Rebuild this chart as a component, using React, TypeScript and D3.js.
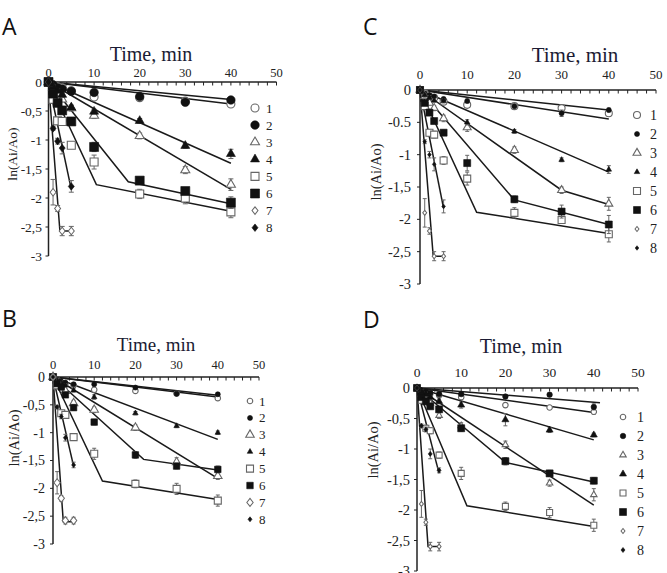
import React from 'react';
import * as d3 from 'd3';

// time points (min)
const times = [0, 1, 2, 3, 5, 10, 20, 30, 40];
const fastTimes = [0, 1, 2, 3, 5];
const seriesLabels = ['1', '2', '3', '4', '5', '6', '7', '8'];

const xTicks = [0, 10, 20, 30, 40, 50];
const yTicks = [0, -0.5, -1, -1.5, -2, -2.5, -3];
const yTickLabels = ['0', '-0,5', '-1', '-1,5', '-2', '-2,5', '-3'];
const yTickLabelsC = ['0', '-0.5', '-1', '-1,5', '-2', '-2,5', '-3'];

// ln(Ai/Ao), series 1-6 on `times`, series 7-8 on `fastTimes`
const valuesA = [
  [0, -0.05, -0.08, -0.1, -0.15, -0.26, -0.27, -0.33, -0.38],
  [0, -0.05, -0.1, -0.12, -0.16, -0.18, -0.25, -0.35, -0.31],
  [0, -0.1, -0.2, -0.3, -0.45, -0.58, -0.93, -1.52, -1.77],
  [0, -0.08, -0.15, -0.22, -0.44, -0.51, -0.67, -1.1, -1.24],
  [0, -0.3, -0.67, -0.68, -1.09, -1.38, -1.93, -2.0, -2.24],
  [0, -0.2, -0.36, -0.49, -0.68, -1.12, -1.7, -1.88, -2.08],
  [0, -1.9, -2.18, -2.57, -2.57],
  [0, -0.8, -1.02, -1.14, -1.8],
];
const errorsA = [
  [0, 0.02, 0.02, 0.02, 0.03, 0.04, 0.03, 0.04, 0.04],
  [0, 0.02, 0.02, 0.02, 0.03, 0.03, 0.03, 0.05, 0.03],
  [0, 0.03, 0.03, 0.04, 0.05, 0.05, 0.05, 0.06, 0.1],
  [0, 0.03, 0.03, 0.04, 0.04, 0.04, 0.04, 0.04, 0.08],
  [0, 0.03, 0.05, 0.05, 0.05, 0.12, 0.08, 0.1, 0.1],
  [0, 0.03, 0.04, 0.04, 0.05, 0.08, 0.05, 0.06, 0.1],
  [0, 0.22, 0.05, 0.08, 0.08],
  [0, 0.03, 0.05, 0.1, 0.1],
];
const fitsA = [
  [[0, 0], [40, -0.38]],
  [[0, 0], [40, -0.3]],
  [[0, 0], [40, -1.85]],
  [[0, 0], [40, -1.4]],
  [[0, 0], [10.5, -1.77], [40, -2.23]],
  [[0, 0], [17.5, -1.72], [40, -2.1]],
  [[0, 0], [2.5, -2.57], [5, -2.57]],
  [[0, 0], [5, -1.85]],
];

const valuesB = [
  [0, -0.05, -0.1, -0.12, -0.15, -0.23, -0.25, -0.3, -0.38],
  [0, -0.05, -0.08, -0.1, -0.13, -0.13, -0.19, -0.3, -0.31],
  [0, -0.1, -0.15, -0.25, -0.47, -0.59, -0.91, -1.53, -1.78],
  [0, -0.06, -0.1, -0.15, -0.24, -0.36, -0.65, -0.88, -1.0],
  [0, -0.15, -0.65, -0.68, -1.08, -1.38, -1.92, -2.01, -2.22],
  [0, -0.12, -0.18, -0.32, -0.55, -0.81, -1.4, -1.6, -1.66],
  [0, -1.9, -2.18, -2.58, -2.58],
  [0, -0.54, -0.71, -1.09, -1.58],
];
const errorsB = [
  [0, 0.02, 0.02, 0.02, 0.03, 0.04, 0.03, 0.03, 0.04],
  [0, 0.02, 0.02, 0.02, 0.03, 0.03, 0.03, 0.03, 0.03],
  [0, 0.03, 0.03, 0.04, 0.05, 0.05, 0.05, 0.08, 0.06],
  [0, 0.03, 0.03, 0.03, 0.03, 0.04, 0.03, 0.03, 0.03],
  [0, 0.03, 0.05, 0.05, 0.05, 0.1, 0.07, 0.1, 0.1],
  [0, 0.03, 0.04, 0.04, 0.05, 0.05, 0.06, 0.05, 0.06],
  [0, 0.2, 0.05, 0.06, 0.06],
  [0, 0.03, 0.04, 0.06, 0.05],
];
const fitsB = [
  [[0, 0], [40, -0.36]],
  [[0, 0], [40, -0.33]],
  [[0, 0], [40, -1.82]],
  [[0, 0], [40, -1.12]],
  [[0, 0], [12, -1.87], [40, -2.2]],
  [[0, 0], [22, -1.48], [40, -1.67]],
  [[0, 0], [2.5, -2.6], [5, -2.6]],
  [[0, 0], [5, -1.6]],
];

const valuesC = [
  [0, -0.05, -0.1, -0.12, -0.18, -0.23, -0.25, -0.28, -0.36],
  [0, -0.05, -0.08, -0.1, -0.14, -0.17, -0.25, -0.36, -0.31],
  [0, -0.1, -0.2, -0.28, -0.44, -0.58, -0.93, -1.55, -1.76],
  [0, -0.08, -0.12, -0.16, -0.17, -0.5, -0.64, -1.08, -1.23],
  [0, -0.25, -0.66, -0.69, -1.09, -1.37, -1.9, -2.01, -2.23],
  [0, -0.2, -0.35, -0.48, -0.66, -1.13, -1.69, -1.88, -2.08],
  [0, -1.9, -2.18, -2.57, -2.57],
  [0, -0.8, -1.0, -1.15, -1.8],
];
const errorsC = [
  [0, 0.02, 0.02, 0.02, 0.03, 0.04, 0.03, 0.04, 0.05],
  [0, 0.02, 0.02, 0.02, 0.03, 0.03, 0.03, 0.05, 0.03],
  [0, 0.03, 0.03, 0.04, 0.05, 0.06, 0.05, 0.05, 0.1],
  [0, 0.03, 0.03, 0.03, 0.03, 0.04, 0.03, 0.03, 0.06],
  [0, 0.03, 0.05, 0.05, 0.06, 0.1, 0.08, 0.05, 0.12],
  [0, 0.03, 0.04, 0.04, 0.04, 0.12, 0.05, 0.1, 0.14],
  [0, 0.22, 0.05, 0.07, 0.07],
  [0, 0.03, 0.05, 0.1, 0.1],
];
const fitsC = [
  [[0, 0], [40, -0.31]],
  [[0, 0], [40, -0.45]],
  [[0, 0], [30, -1.55], [40, -1.77]],
  [[0, 0], [40, -1.27]],
  [[0, 0], [12, -1.89], [40, -2.22]],
  [[0, 0], [20, -1.7], [40, -2.08]],
  [[0, 0], [2.8, -2.57], [5, -2.57]],
  [[0, 0], [5, -1.83]],
];

const valuesD = [
  [0, -0.05, -0.08, -0.1, -0.12, -0.15, -0.28, -0.32, -0.39],
  [0, -0.04, -0.06, -0.08, -0.1, -0.1, -0.14, -0.11, -0.31],
  [0, -0.1, -0.2, -0.25, -0.45, -0.62, -0.93, -1.56, -1.75],
  [0, -0.06, -0.1, -0.15, -0.22, -0.28, -0.52, -0.69, -0.77],
  [0, -0.2, -0.66, -0.7, -1.1, -1.4, -1.94, -2.04, -2.25],
  [0, -0.15, -0.22, -0.3, -0.35, -0.66, -1.2, -1.4, -1.52],
  [0, -1.9, -2.2, -2.6, -2.6],
  [0, -0.62, -0.68, -1.08, -1.35],
];
const errorsD = [
  [0, 0.02, 0.02, 0.02, 0.03, 0.03, 0.03, 0.03, 0.04],
  [0, 0.02, 0.02, 0.02, 0.03, 0.03, 0.03, 0.03, 0.05],
  [0, 0.03, 0.03, 0.04, 0.05, 0.05, 0.06, 0.05, 0.1],
  [0, 0.03, 0.03, 0.03, 0.04, 0.05, 0.1, 0.04, 0.03],
  [0, 0.03, 0.05, 0.05, 0.05, 0.1, 0.07, 0.08, 0.1],
  [0, 0.03, 0.04, 0.04, 0.04, 0.05, 0.06, 0.05, 0.05],
  [0, 0.22, 0.05, 0.07, 0.07],
  [0, 0.03, 0.04, 0.08, 0.04],
];
const fitsD = [
  [[0, 0], [40, -0.4]],
  [[0, 0], [41.4, -0.24]],
  [[0, 0], [40, -1.92]],
  [[0, 0], [40, -0.85]],
  [[0, 0], [11.3, -1.93], [40, -2.27]],
  [[0, 0], [20, -1.22], [40, -1.54]],
  [[0, 0], [2.5, -2.6], [5, -2.6]],
  [[0, 0], [5, -1.4]],
];

const shapes = ['circle', 'circle', 'triangle', 'triangle', 'square', 'square', 'diamond', 'diamond'];
const filled = [false, true, false, true, false, true, false, true];

const SERIF = '"Liberation Serif", "Times New Roman", serif';
const SANS = '"Open Sans", "Noto Sans", sans-serif';

const panels = [
  {
    letter: 'A', lx: 2, ly: 35,
    x0: 48.5, x1: 276.5, y0: 82, y3: 256,
    title: { x: 151, y: 61, size: 20 },
    tickY: 77, tickFont: 12.5, yTickRight: 42, yTickFont: 13.5, yLabels: yTickLabels,
    yLab: { x: 12, y: 154, size: 13.5 },
    legend: { mx: 255, tx: 266, y: 108, dy: 17.1, size: 13 },
    sizes: [8, 8.5, 9, 9, 8, 9, 7.5, 7.5], cap: 5,
    values: valuesA, errors: errorsA, fits: fitsA,
  },
  {
    letter: 'C', lx: 363, ly: 35,
    x0: 420, x1: 656, y0: 90, y3: 284,
    title: { x: 575, y: 62, size: 21 },
    tickY: 79, tickFont: 13, yTickRight: 411, yTickFont: 14.5, yLabels: yTickLabelsC,
    yLab: { x: 376, y: 172, size: 14.5 },
    legend: { mx: 637, tx: 650, y: 115, dy: 19, size: 14 },
    sizes: [7, 5, 8, 5.5, 7, 7, 5, 4.5], cap: 4,
    values: valuesC, errors: errorsC, fits: fitsC,
  },
  {
    letter: 'B', lx: 2, ly: 327,
    x0: 53, x1: 259, y0: 377, y3: 544,
    title: { x: 156, y: 351, size: 19 },
    tickY: 369, tickFont: 12.5, yTickRight: 45, yTickFont: 14, yLabels: yTickLabels,
    yLab: { x: 14, y: 438, size: 14.5 },
    legend: { mx: 250, tx: 259, y: 401, dy: 16.9, size: 13 },
    sizes: [5.5, 5, 8.5, 5.5, 7, 6.5, 8, 5], cap: 4,
    values: valuesB, errors: errorsB, fits: fitsB,
  },
  {
    letter: 'D', lx: 363, ly: 328,
    x0: 417, x1: 638, y0: 388, y3: 571,
    title: { x: 521, y: 353, size: 20 },
    tickY: 377, tickFont: 13.5, yTickRight: 410, yTickFont: 14.5, yLabels: yTickLabels,
    yLab: { x: 373, y: 450, size: 14.5 },
    legend: { mx: 623, tx: 637, y: 417, dy: 19, size: 14 },
    sizes: [5.5, 5.5, 6.5, 7, 6, 7, 5, 5], cap: 4,
    values: valuesD, errors: errorsD, fits: fitsD,
  },
];

function Marker({ kind, fill, d, x, y }: { kind: string; fill: boolean; d: number; x: number; y: number }) {
  let type = d3.symbolSquare;
  let area = d * d;
  let transform = `translate(${x},${y})`;
  if (kind === 'circle') {
    type = d3.symbolCircle;
    area = Math.PI * (d / 2) * (d / 2);
  } else if (kind === 'triangle') {
    type = d3.symbolTriangle;
    area = (Math.sqrt(3) / 4) * d * d;
  } else if (kind === 'diamond') {
    area = (d * d) / 2;
    transform += ' scale(0.8,1) rotate(45)';
  }
  const path = d3.symbol().type(type).size(area)() as string;
  return (
    <path
      d={path}
      transform={transform}
      fill={fill ? '#111' : '#fff'}
      stroke={fill ? '#111' : '#666'}
      strokeWidth={fill ? 0.6 : 1.1}
    />
  );
}

function Panel({ cfg }: { cfg: any }) {
  const x = d3.scaleLinear().domain([0, 50]).range([cfg.x0, cfg.x1]);
  const y = d3.scaleLinear().domain([0, -3]).range([cfg.y0, cfg.y3]);
  const line = d3.line<number[]>().x(d => x(d[0])).y(d => y(d[1]));
  const minor = d3.range(0, 51, 2);

  return (
    <g>
      <text x={cfg.lx} y={cfg.ly} fontFamily={SANS} fontSize={23} fill="#111">{cfg.letter}</text>
      <text x={cfg.title.x} y={cfg.title.y} textAnchor="middle" fontFamily={SERIF} fontSize={cfg.title.size} fill="#1b1b33">Time, min</text>

      {/* x axis along the top */}
      <line x1={x(0)} x2={x(50)} y1={y(0)} y2={y(0)} stroke="#222" strokeWidth={1.5} />
      {minor.map(t => (
        <line key={'m' + t} x1={x(t)} x2={x(t)} y1={y(0)} y2={y(0) + 3.5} stroke="#222" strokeWidth={1} />
      ))}
      {xTicks.map(t => (
        <text key={'x' + t} x={x(t)} y={cfg.tickY} textAnchor="middle" fontFamily={SERIF} fontSize={cfg.tickFont} fill="#222">{t}</text>
      ))}

      {/* y axis */}
      <line x1={x(0)} x2={x(0)} y1={y(0)} y2={y(-3)} stroke="#222" strokeWidth={1.5} />
      {yTicks.map((v, i) => (
        <g key={'y' + i}>
          <line x1={x(0) - 3} x2={x(0)} y1={y(v)} y2={y(v)} stroke="#222" strokeWidth={1} />
          <text x={cfg.yTickRight} y={y(v)} dy="0.35em" textAnchor="end" fontFamily={SERIF} fontSize={cfg.yTickFont} fill="#222">{cfg.yLabels[i]}</text>
        </g>
      ))}
      <text
        x={cfg.yLab.x} y={cfg.yLab.y}
        transform={`rotate(-90,${cfg.yLab.x},${cfg.yLab.y})`}
        textAnchor="middle" dy="0.35em"
        fontFamily={SERIF} fontSize={cfg.yLab.size} fill="#222"
      >ln(Ai/Ao)</text>

      {/* fitted lines */}
      {cfg.fits.map((f: number[][], i: number) => (
        <path key={'f' + i} d={line(f) as string} fill="none" stroke="#1a1a1a" strokeWidth={1.5} />
      ))}

      {/* error bars + points */}
      {cfg.values.map((vals: number[], i: number) => {
        const ts = i < 6 ? times : fastTimes;
        return (
          <g key={'s' + i}>
            {vals.map((v, j) => {
              const e = cfg.errors[i][j];
              if (!e) return null;
              const cx = x(ts[j]);
              return (
                <g key={'e' + j} stroke="#666" strokeWidth={1}>
                  <line x1={cx} x2={cx} y1={y(v - e)} y2={y(v + e)} />
                  <line x1={cx - cfg.cap / 2} x2={cx + cfg.cap / 2} y1={y(v - e)} y2={y(v - e)} />
                  <line x1={cx - cfg.cap / 2} x2={cx + cfg.cap / 2} y1={y(v + e)} y2={y(v + e)} />
                </g>
              );
            })}
            {vals.map((v, j) => (
              <Marker key={'p' + j} kind={shapes[i]} fill={filled[i]} d={cfg.sizes[i]} x={x(ts[j])} y={y(v)} />
            ))}
          </g>
        );
      })}

      {/* legend */}
      {seriesLabels.map((s, i) => {
        const ly = cfg.legend.y + i * cfg.legend.dy;
        return (
          <g key={'l' + i}>
            <Marker kind={shapes[i]} fill={filled[i]} d={cfg.sizes[i]} x={cfg.legend.mx} y={ly} />
            <text x={cfg.legend.tx} y={ly} dy="0.35em" fontFamily={SERIF} fontSize={cfg.legend.size} fill="#222">{s}</text>
          </g>
        );
      })}
    </g>
  );
}

export default function App() {
  return (
    <svg
      width={667}
      height={573}
      viewBox="0 0 667 573"
      style={{ position: 'absolute', left: 0, top: 0, background: '#fff' }}
    >
      <rect width={667} height={573} fill="#fff" />
      {panels.map(p => <Panel key={p.letter} cfg={p} />)}
    </svg>
  );
}
